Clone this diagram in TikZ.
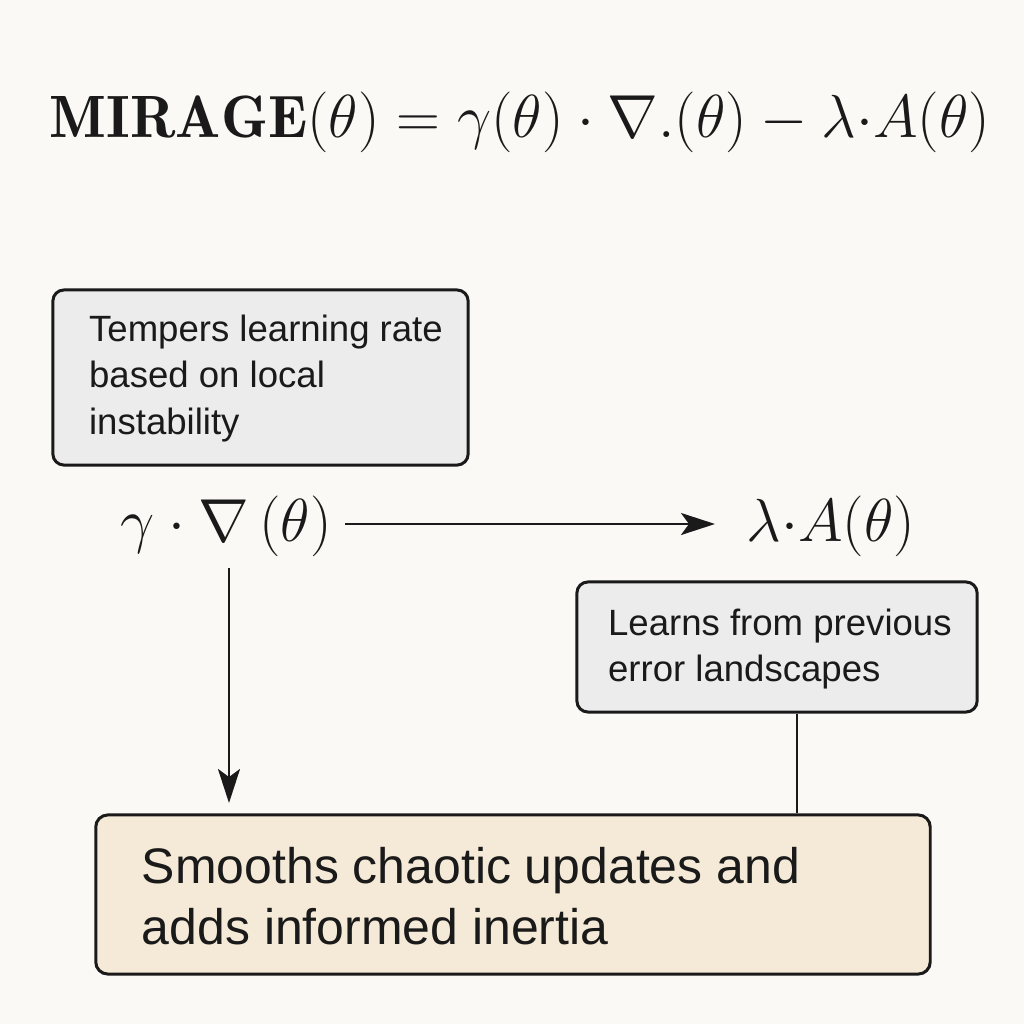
\documentclass[tikz,border=0pt]{standalone}
\usepackage{amsmath}
\usepackage{amssymb}
\usepackage{fontspec}
\setsansfont{Liberation Sans}
\usetikzlibrary{arrows.meta}

\definecolor{paper}{HTML}{FAF9F6}
\definecolor{notegray}{HTML}{ECECEC}
\definecolor{beige}{HTML}{F4EAD7}
\definecolor{ink}{HTML}{1A1A1A}

\tikzset{
	note/.style={draw=ink, line width=0.85pt, fill=notegray, rounded corners=0.11cm, inner sep=0pt},
	notetext/.style={anchor=west, align=left, inner sep=0pt, text=ink,
		font=\sffamily\fontsize{10.4}{13.2}\selectfont},
	resultbox/.style={draw=ink, line width=0.85pt, fill=beige, rounded corners=0.12cm, inner sep=0pt},
	resulttext/.style={anchor=west, align=left, inner sep=0pt, text=ink,
		font=\sffamily\fontsize{14.2}{17.3}\selectfont},
	term/.style={font=\fontsize{16}{18}\selectfont, anchor=base, inner sep=0pt, text=ink},
	link/.style={draw=ink, line width=0.7pt, -{Stealth[length=0.34cm, width=0.22cm, inset=0.08cm]}}
}

\begin{document}
\begin{tikzpicture}[x=0.01cm, y=-0.01cm]
	\fill[paper] (0,0) rectangle (1024,1024);
	\useasboundingbox (0,0) rectangle (1024,1024);

	% formula on top
	\node (title) at (520,137) [anchor=base, inner sep=0pt, text=ink, font=\fontsize{17}{20}\selectfont]
		{$\mathbf{MIRAGE}(\theta) = \gamma(\theta)\cdot\nabla{.}(\theta) - \lambda{\cdot}A(\theta)$};

	% the two terms
	\node (grad) at (226,541) [term] {$\gamma\cdot\nabla\,(\theta)$};
	\node (mem) at (831,541) [term] {$\lambda{\cdot}A(\theta)$};

	% notes
	\node (n1) at (260.5,377.5) [note, minimum width=4.15cm, minimum height=1.75cm] {};
	\node (n1t) at ([xshift=0.37cm, yshift=-0.01cm]n1.west) [notetext] {Tempers learning rate\\based on local\\instability};
	\node (n2) at (777,647) [note, minimum width=4cm, minimum height=1.3cm] {};
	\node (n2t) at ([xshift=0.32cm, yshift=-0.02cm]n2.west) [notetext] {Learns from previous\\error landscapes};

	\node (res) at (513,894.5) [resultbox, minimum width=8.34cm, minimum height=1.59cm] {};
	\node (rest) at ([xshift=0.47cm, yshift=-0.02cm]res.west) [resulttext] {Smooths chaotic updates and\\adds informed inertia};

	\coordinate (h1) at (345,524);
	\coordinate (h2) at (715,524);
	\coordinate (v1) at (229,568);
	\coordinate (v2) at (229,803);

	\draw[link] (h1) -- (h2);
	\draw[link] (v1) -- (v2);
	\draw[ink, line width=0.7pt] (n2.south -| 797,0) -- (res.north -| 797,0);
\end{tikzpicture}
\end{document}
